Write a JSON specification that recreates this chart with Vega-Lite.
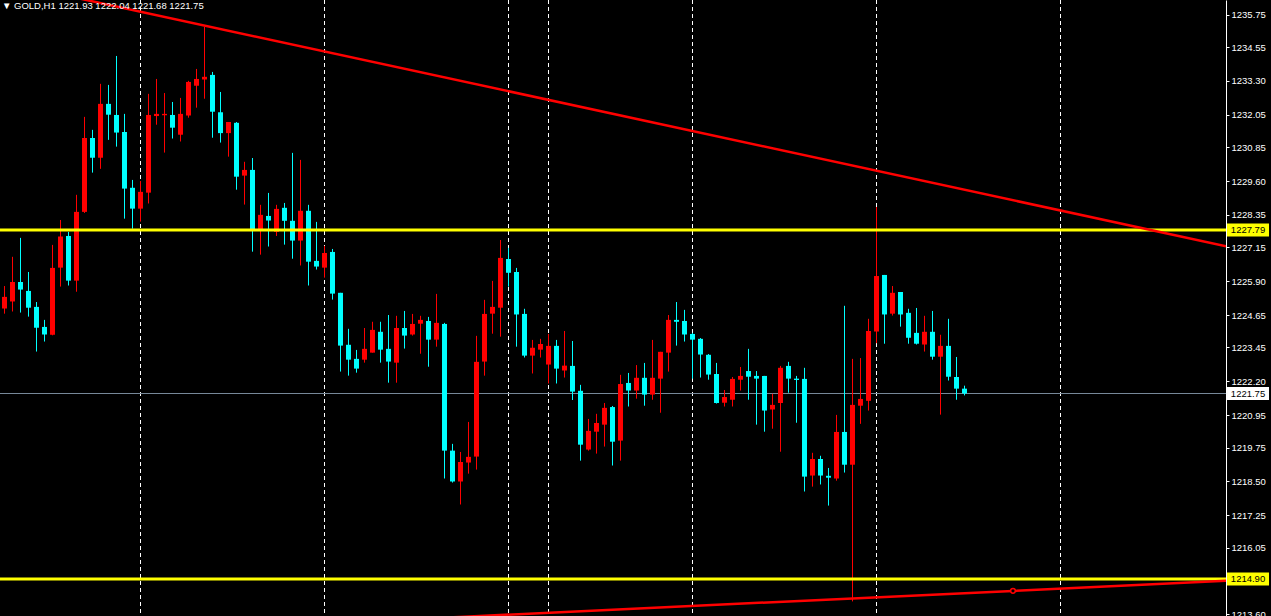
{
  "$schema": "https://vega.github.io/schema/vega-lite/v6.json",
  "width": 1226,
  "height": 616,
  "autosize": {"type": "none"},
  "padding": {"left": 0, "top": 0, "bottom": 0, "right": 45},
  "background": "#000000",
  "config": {
    "view": {"stroke": null},
    "font": "Liberation Sans",
    "axis": {"labelOverlap": false},
    "axisY": {
      "domainColor": "#FFFFFF",
      "domainWidth": 1,
      "tickColor": "#FFFFFF",
      "tickSize": 3,
      "tickWidth": 1,
      "labelColor": "#FFFFFF",
      "labelFont": "Liberation Sans",
      "labelFontSize": 9.5,
      "labelPadding": 2,
      "labelOverlap": false,
      "labelSeparation": 0,
      "grid": false,
      "title": null
    }
  },
  "title": {
    "text": "▼ GOLD,H1  1221.93 1222.04 1221.68 1221.75",
    "anchor": "start",
    "frame": "group",
    "orient": "top",
    "offset": -10,
    "dx": 2,
    "dy": 9,
    "baseline": "alphabetic",
    "font": "Liberation Sans",
    "fontSize": 9.5,
    "fontWeight": "normal",
    "color": "#FFFFFF"
  },
  "datasets": {
    "candles": [
      {"i":0,"o":1224.89,"h":1225.72,"l":1224.70,"c":1225.32},
      {"i":1,"o":1225.15,"h":1226.80,"l":1224.78,"c":1225.87},
      {"i":2,"o":1225.87,"h":1227.50,"l":1224.74,"c":1225.59},
      {"i":3,"o":1225.54,"h":1226.24,"l":1224.59,"c":1224.92},
      {"i":4,"o":1224.95,"h":1225.13,"l":1223.30,"c":1224.18},
      {"i":5,"o":1224.21,"h":1224.47,"l":1223.67,"c":1223.93},
      {"i":6,"o":1223.92,"h":1227.24,"l":1223.90,"c":1226.39},
      {"i":7,"o":1226.40,"h":1228.16,"l":1225.70,"c":1227.55},
      {"i":8,"o":1227.57,"h":1227.72,"l":1225.74,"c":1225.92},
      {"i":9,"o":1225.92,"h":1229.09,"l":1225.51,"c":1228.46},
      {"i":10,"o":1228.46,"h":1231.97,"l":1228.42,"c":1231.19},
      {"i":11,"o":1231.19,"h":1231.49,"l":1229.91,"c":1230.46},
      {"i":12,"o":1230.46,"h":1233.19,"l":1230.05,"c":1232.45},
      {"i":13,"o":1232.45,"h":1233.15,"l":1231.12,"c":1232.05},
      {"i":14,"o":1232.04,"h":1234.22,"l":1230.87,"c":1231.39},
      {"i":15,"o":1231.41,"h":1232.08,"l":1228.21,"c":1229.32},
      {"i":16,"o":1229.35,"h":1229.64,"l":1227.84,"c":1228.58},
      {"i":17,"o":1228.58,"h":1229.60,"l":1228.10,"c":1229.20},
      {"i":18,"o":1229.17,"h":1232.82,"l":1228.77,"c":1232.04},
      {"i":19,"o":1232.00,"h":1233.37,"l":1231.68,"c":1232.08},
      {"i":20,"o":1232.03,"h":1232.85,"l":1230.65,"c":1232.08},
      {"i":21,"o":1232.04,"h":1232.52,"l":1231.17,"c":1231.57},
      {"i":22,"o":1231.31,"h":1232.67,"l":1231.06,"c":1232.08},
      {"i":23,"o":1232.02,"h":1233.30,"l":1231.94,"c":1233.26},
      {"i":24,"o":1233.12,"h":1233.74,"l":1232.31,"c":1233.37},
      {"i":25,"o":1233.35,"h":1235.29,"l":1232.64,"c":1233.45},
      {"i":26,"o":1233.52,"h":1233.63,"l":1231.20,"c":1232.16},
      {"i":27,"o":1232.14,"h":1232.89,"l":1231.02,"c":1231.37},
      {"i":28,"o":1231.37,"h":1231.78,"l":1230.50,"c":1231.78},
      {"i":29,"o":1231.75,"h":1231.78,"l":1229.28,"c":1229.76},
      {"i":30,"o":1229.80,"h":1230.31,"l":1228.73,"c":1230.01},
      {"i":31,"o":1230.01,"h":1230.45,"l":1226.99,"c":1227.82},
      {"i":32,"o":1227.82,"h":1228.72,"l":1226.88,"c":1228.35},
      {"i":33,"o":1228.31,"h":1229.16,"l":1227.18,"c":1228.14},
      {"i":34,"o":1227.72,"h":1228.72,"l":1227.57,"c":1228.57},
      {"i":35,"o":1228.61,"h":1228.79,"l":1227.25,"c":1228.13},
      {"i":36,"o":1228.13,"h":1230.64,"l":1226.73,"c":1227.40},
      {"i":37,"o":1227.40,"h":1230.38,"l":1226.48,"c":1228.50},
      {"i":38,"o":1228.50,"h":1228.72,"l":1225.74,"c":1226.62},
      {"i":39,"o":1226.65,"h":1228.09,"l":1226.33,"c":1226.44},
      {"i":40,"o":1226.40,"h":1227.20,"l":1226.03,"c":1226.94},
      {"i":41,"o":1226.98,"h":1227.09,"l":1225.22,"c":1225.44},
      {"i":42,"o":1225.47,"h":1225.47,"l":1222.56,"c":1223.52},
      {"i":43,"o":1223.55,"h":1224.14,"l":1222.41,"c":1223.00},
      {"i":44,"o":1223.03,"h":1223.36,"l":1222.52,"c":1222.67},
      {"i":45,"o":1223.00,"h":1224.17,"l":1222.89,"c":1223.40},
      {"i":46,"o":1223.26,"h":1224.40,"l":1223.26,"c":1224.10},
      {"i":47,"o":1224.03,"h":1224.40,"l":1222.89,"c":1223.37},
      {"i":48,"o":1223.40,"h":1224.65,"l":1222.15,"c":1222.93},
      {"i":49,"o":1222.89,"h":1224.62,"l":1222.15,"c":1224.17},
      {"i":50,"o":1224.17,"h":1224.80,"l":1223.41,"c":1223.89},
      {"i":51,"o":1223.93,"h":1224.69,"l":1223.89,"c":1224.32},
      {"i":52,"o":1224.33,"h":1224.62,"l":1223.22,"c":1224.47},
      {"i":53,"o":1224.43,"h":1224.58,"l":1222.74,"c":1223.74},
      {"i":54,"o":1223.74,"h":1225.43,"l":1223.48,"c":1224.36},
      {"i":55,"o":1224.32,"h":1224.36,"l":1218.61,"c":1219.64},
      {"i":56,"o":1219.64,"h":1219.89,"l":1218.46,"c":1218.50},
      {"i":57,"o":1218.50,"h":1219.59,"l":1217.65,"c":1219.22},
      {"i":58,"o":1219.20,"h":1220.70,"l":1218.79,"c":1219.41},
      {"i":59,"o":1219.42,"h":1223.88,"l":1218.94,"c":1222.92},
      {"i":60,"o":1222.93,"h":1225.21,"l":1222.41,"c":1224.69},
      {"i":61,"o":1224.70,"h":1225.91,"l":1223.96,"c":1224.95},
      {"i":62,"o":1224.92,"h":1227.42,"l":1223.85,"c":1226.76},
      {"i":63,"o":1226.72,"h":1227.13,"l":1225.70,"c":1226.21},
      {"i":64,"o":1226.24,"h":1226.39,"l":1223.48,"c":1224.67},
      {"i":65,"o":1224.69,"h":1224.88,"l":1223.08,"c":1223.15},
      {"i":66,"o":1223.15,"h":1223.73,"l":1222.49,"c":1223.44},
      {"i":67,"o":1223.37,"h":1223.77,"l":1223.08,"c":1223.58},
      {"i":68,"o":1222.82,"h":1223.95,"l":1222.12,"c":1223.51},
      {"i":69,"o":1223.51,"h":1223.73,"l":1222.12,"c":1222.67},
      {"i":70,"o":1222.60,"h":1224.06,"l":1222.34,"c":1222.78},
      {"i":71,"o":1222.77,"h":1223.69,"l":1221.51,"c":1221.82},
      {"i":72,"o":1221.85,"h":1222.07,"l":1219.27,"c":1219.86},
      {"i":73,"o":1219.68,"h":1220.81,"l":1219.64,"c":1220.37},
      {"i":74,"o":1220.34,"h":1221.00,"l":1219.53,"c":1220.66},
      {"i":75,"o":1220.60,"h":1221.40,"l":1219.79,"c":1221.22},
      {"i":76,"o":1221.25,"h":1221.29,"l":1219.09,"c":1219.97},
      {"i":77,"o":1220.01,"h":1222.44,"l":1219.27,"c":1222.10},
      {"i":78,"o":1222.14,"h":1222.51,"l":1221.27,"c":1221.86},
      {"i":79,"o":1221.86,"h":1222.80,"l":1221.56,"c":1222.33},
      {"i":80,"o":1222.33,"h":1222.88,"l":1221.30,"c":1221.71},
      {"i":81,"o":1221.71,"h":1223.73,"l":1221.52,"c":1222.33},
      {"i":82,"o":1222.30,"h":1223.29,"l":1221.04,"c":1223.29},
      {"i":83,"o":1223.26,"h":1224.65,"l":1222.56,"c":1224.47},
      {"i":84,"o":1224.47,"h":1225.13,"l":1223.52,"c":1224.40},
      {"i":85,"o":1224.43,"h":1224.84,"l":1223.67,"c":1223.93},
      {"i":86,"o":1223.95,"h":1223.99,"l":1222.30,"c":1223.74},
      {"i":87,"o":1223.77,"h":1223.80,"l":1222.34,"c":1223.19},
      {"i":88,"o":1223.18,"h":1223.21,"l":1222.26,"c":1222.45},
      {"i":89,"o":1222.47,"h":1222.88,"l":1221.38,"c":1221.40},
      {"i":90,"o":1221.41,"h":1221.88,"l":1221.27,"c":1221.62},
      {"i":91,"o":1221.52,"h":1222.36,"l":1221.27,"c":1222.29},
      {"i":92,"o":1222.26,"h":1222.73,"l":1221.86,"c":1222.40},
      {"i":93,"o":1222.58,"h":1223.40,"l":1221.52,"c":1222.37},
      {"i":94,"o":1222.40,"h":1222.58,"l":1220.60,"c":1222.30},
      {"i":95,"o":1222.40,"h":1222.40,"l":1220.34,"c":1221.12},
      {"i":96,"o":1221.16,"h":1221.74,"l":1220.45,"c":1221.33},
      {"i":97,"o":1221.40,"h":1222.77,"l":1219.60,"c":1222.70},
      {"i":98,"o":1222.77,"h":1222.92,"l":1221.78,"c":1222.30},
      {"i":99,"o":1222.30,"h":1222.40,"l":1220.67,"c":1222.25},
      {"i":100,"o":1222.29,"h":1222.70,"l":1218.13,"c":1218.68},
      {"i":101,"o":1218.72,"h":1219.56,"l":1218.31,"c":1219.33},
      {"i":102,"o":1219.33,"h":1219.45,"l":1218.39,"c":1218.72},
      {"i":103,"o":1218.71,"h":1219.00,"l":1217.61,"c":1218.64},
      {"i":104,"o":1218.61,"h":1220.96,"l":1218.53,"c":1220.33},
      {"i":105,"o":1220.33,"h":1224.99,"l":1218.83,"c":1219.12},
      {"i":106,"o":1219.12,"h":1223.03,"l":1214.07,"c":1221.33},
      {"i":107,"o":1221.30,"h":1223.06,"l":1220.63,"c":1221.55},
      {"i":108,"o":1221.48,"h":1224.51,"l":1221.12,"c":1224.06},
      {"i":109,"o":1224.04,"h":1228.64,"l":1223.61,"c":1226.09},
      {"i":110,"o":1226.13,"h":1226.13,"l":1223.59,"c":1224.67},
      {"i":111,"o":1224.70,"h":1225.72,"l":1224.63,"c":1225.47},
      {"i":112,"o":1225.50,"h":1225.50,"l":1224.22,"c":1224.67},
      {"i":113,"o":1224.73,"h":1224.88,"l":1223.59,"c":1223.81},
      {"i":114,"o":1223.99,"h":1224.91,"l":1223.56,"c":1223.59},
      {"i":115,"o":1223.56,"h":1224.62,"l":1223.30,"c":1224.03},
      {"i":116,"o":1224.03,"h":1224.80,"l":1223.00,"c":1223.11},
      {"i":117,"o":1223.11,"h":1223.92,"l":1220.97,"c":1223.51},
      {"i":118,"o":1223.51,"h":1224.51,"l":1222.23,"c":1222.37},
      {"i":119,"o":1222.36,"h":1223.10,"l":1221.52,"c":1221.93},
      {"i":120,"o":1221.93,"h":1222.04,"l":1221.68,"c":1221.75}
    ],
    "separators": [{"i":17},{"i":40},{"i":63},{"i":68},{"i":86},{"i":109},{"i":132}],
    "levels": [{"p":1227.79,"kind":"level"},{"p":1214.90,"kind":"level"},{"p":1221.75,"kind":"bid"}],
    "trend": [
      {"t":"upper","i":0,"p":1236.94},
      {"t":"upper","i":152.7,"p":1227.19},
      {"t":"lower","i":40,"p":1213.26},
      {"t":"lower","i":152.7,"p":1214.83}
    ],
    "anchor": [{"i":126.06,"p":1214.46}]
  },
  "layer": [
    {
      "data": {"name": "separators"},
      "mark": {"type": "rule", "color": "#FFFFFF", "strokeWidth": 1, "strokeDash": [4, 3]},
      "encoding": {
        "x": {"field": "i", "type": "quantitative", "scale": {"domain": [-0.5625, 152.6875], "nice": false, "zero": false, "padding": 0}, "axis": null}
      }
    },
    {
      "data": {"name": "levels"},
      "transform": [{"filter": "datum.kind == 'bid'"}],
      "mark": {"type": "rule", "color": "#778899", "strokeWidth": 1},
      "encoding": {
        "y": {
          "field": "p", "type": "quantitative",
          "scale": {"domain": [1213.531, 1236.287], "nice": false, "zero": false},
          "axis": {
            "orient": "right",
            "values": [1235.75, 1234.55, 1233.30, 1232.05, 1230.85, 1229.60, 1228.35, 1227.15, 1225.90, 1224.65, 1223.45, 1222.20, 1220.95, 1219.75, 1218.50, 1217.25, 1216.05, 1213.60],
            "format": ".2f",
            "title": null,
            "labelAlign": "left",
            "labelBaseline": "middle",
            "labelOverlap": false,
            "labelFlush": false,
            "labelBound": false,
            "tickCount": 18
          }
        }
      }
    },
    {
      "data": {"name": "candles"},
      "mark": {"type": "rule", "strokeWidth": 1},
      "encoding": {
        "x": {"field": "i", "type": "quantitative", "scale": {"domain": [-0.5625, 152.6875], "nice": false, "zero": false, "padding": 0}, "axis": null},
        "y": {"field": "l", "type": "quantitative", "scale": {"domain": [1213.531, 1236.287], "nice": false, "zero": false}},
        "y2": {"field": "h"},
        "color": {"condition": {"test": "datum.c > datum.o", "value": "#FF0000"}, "value": "#00FFFF"}
      }
    },
    {
      "data": {"name": "candles"},
      "mark": {"type": "bar", "size": 5},
      "encoding": {
        "x": {"field": "i", "type": "quantitative", "scale": {"domain": [-0.5625, 152.6875], "nice": false, "zero": false, "padding": 0}, "axis": null},
        "y": {"field": "o", "type": "quantitative", "scale": {"domain": [1213.531, 1236.287], "nice": false, "zero": false}},
        "y2": {"field": "c"},
        "color": {"condition": {"test": "datum.c > datum.o", "value": "#FF0000"}, "value": "#00FFFF"}
      }
    },
    {
      "data": {"name": "levels"},
      "transform": [{"filter": "datum.kind == 'level'"}],
      "mark": {"type": "rule", "color": "#FFFF00", "strokeWidth": 3},
      "encoding": {
        "y": {"field": "p", "type": "quantitative", "scale": {"domain": [1213.531, 1236.287], "nice": false, "zero": false}}
      }
    },
    {
      "data": {"name": "trend"},
      "mark": {"type": "line", "color": "#FF0000", "strokeWidth": 2.5, "clip": true},
      "encoding": {
        "x": {"field": "i", "type": "quantitative", "scale": {"domain": [-0.5625, 152.6875], "nice": false, "zero": false, "padding": 0}, "axis": null},
        "y": {"field": "p", "type": "quantitative", "scale": {"domain": [1213.531, 1236.287], "nice": false, "zero": false}},
        "detail": {"field": "t", "type": "nominal"}
      }
    },
    {
      "data": {"name": "anchor"},
      "mark": {"type": "point", "shape": "circle", "size": 22, "filled": true, "color": "#000000", "stroke": "#FF0000", "strokeWidth": 1.5, "opacity": 1},
      "encoding": {
        "x": {"field": "i", "type": "quantitative", "scale": {"domain": [-0.5625, 152.6875], "nice": false, "zero": false, "padding": 0}, "axis": null},
        "y": {"field": "p", "type": "quantitative", "scale": {"domain": [1213.531, 1236.287], "nice": false, "zero": false}}
      }
    },
    {
      "data": {"name": "levels"},
      "mark": {"type": "tick", "orient": "horizontal", "size": 42, "thickness": 13, "opacity": 1},
      "encoding": {
        "y": {"field": "p", "type": "quantitative", "scale": {"domain": [1213.531, 1236.287], "nice": false, "zero": false}},
        "x": {"datum": 155.44, "type": "quantitative", "scale": {"domain": [-0.5625, 152.6875], "nice": false, "zero": false, "padding": 0}, "axis": null},
        "color": {"condition": {"test": "datum.kind == 'bid'", "value": "#FFFFFF"}, "value": "#FFFF00"}
      }
    },
    {
      "data": {"name": "levels"},
      "mark": {"type": "text", "align": "center", "baseline": "middle", "color": "#000000", "font": "Liberation Sans", "fontSize": 9.5},
      "encoding": {
        "y": {"field": "p", "type": "quantitative", "scale": {"domain": [1213.531, 1236.287], "nice": false, "zero": false}},
        "x": {"datum": 155.44, "type": "quantitative", "scale": {"domain": [-0.5625, 152.6875], "nice": false, "zero": false, "padding": 0}, "axis": null},
        "text": {"field": "p", "type": "quantitative", "format": ".2f"}
      }
    }
  ]
}
